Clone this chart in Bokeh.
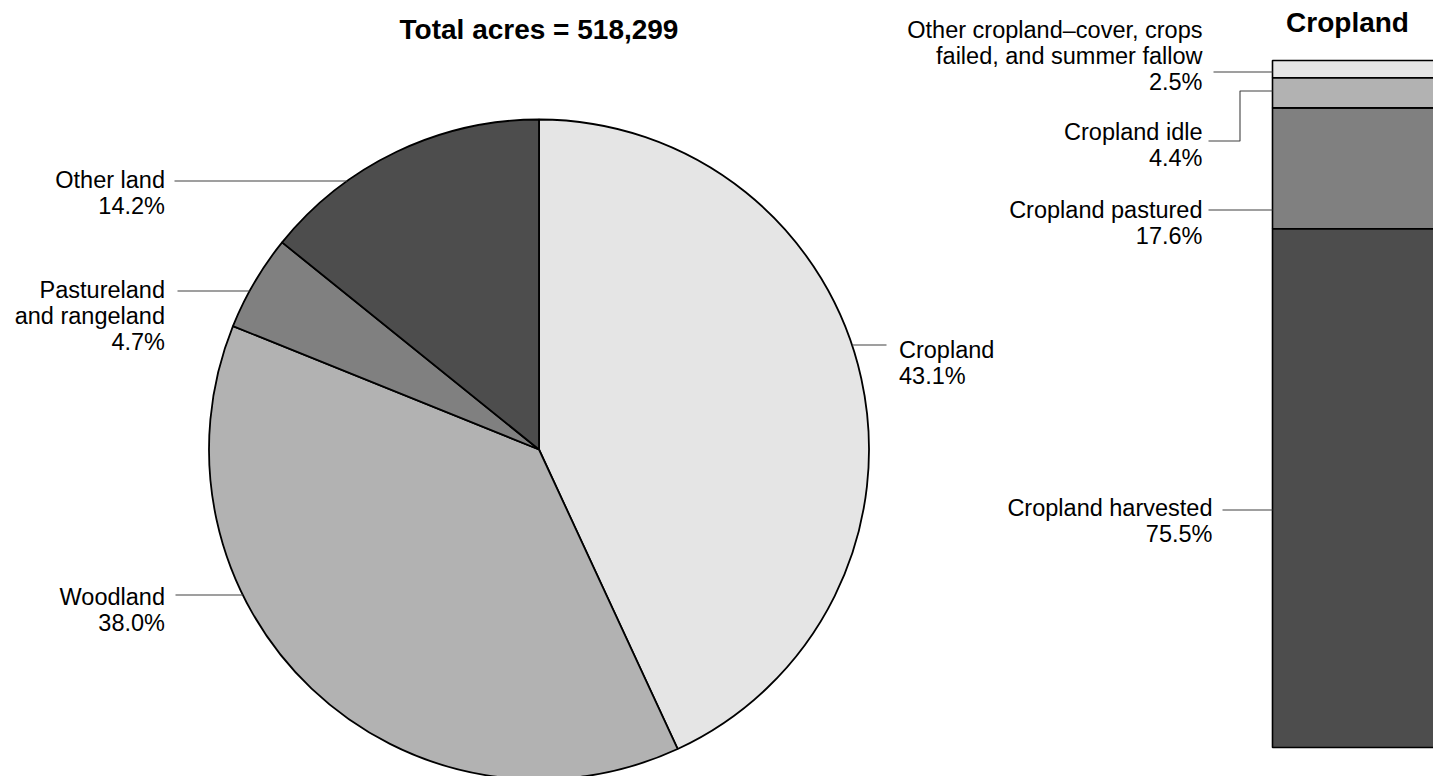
import math
from bokeh.plotting import figure
from bokeh.models import ColumnDataSource, Range1d
from bokeh.core.properties import value
from bokeh.embed import file_html
from bokeh.resources import INLINE

# ---------------- data ----------------
total_acres = 518299
land_categories = ["Cropland", "Woodland", "Pastureland\nand rangeland", "Other land"]
land_shares = [43.1, 38.0, 4.7, 14.2]
land_colors = ["#e5e5e5", "#b2b2b2", "#808080", "#4d4d4d"]

crop_title = "Cropland"
crop_categories = ["Cropland harvested", "Cropland pastured", "Cropland idle",
                   "Other cropland\u2013cover, crops\nfailed, and summer fallow"]
crop_shares = [75.5, 17.6, 4.4, 2.5]
crop_colors = ["#4d4d4d", "#808080", "#b2b2b2", "#e5e5e5"]

# ---------------- layout (page pixel coordinates) ----------------
W, H = 1433, 776
X0, Y0 = 0, 0
CX, CY, R = 538.5, 449.0, 330.0     # pie centre / radius
BAR_L, BAR_R = 1272.0, 1470.0
BAR_TOP, BAR_BOT = 60.0, 747.0
FONT = "Liberation Sans"
FS = "23.5px"
LS = 26.0                           # label line spacing
LABEL_SHIFT = -8.0                  # renderer baseline correction
TITLE_SHIFT = -10.5
LEADER = "#404040"

pie_layout = {
    "Cropland": dict(x=898.5, y=357, align="left", ly=344.5, lx=886),
    "Woodland": dict(x=164.5, y=604, align="right", ly=594.5, lx=175),
    "Pastureland\nand rangeland": dict(x=164.5, y=297.5, align="right", ly=290.5, lx=177),
    "Other land": dict(x=164.5, y=187, align="right", ly=180.5, lx=174),
}
bar_layout = {
    "Cropland harvested": dict(x=1212, y=515, path=[(1222, 509.5), (BAR_L, 509.5)]),
    "Cropland pastured": dict(x=1202, y=217, path=[(1208, 209.5), (BAR_L, 209.5)]),
    "Cropland idle": dict(x=1202, y=139.5, path=[(1208, 140.5), (1239.5, 140.5), (1239.5, 90.5), (BAR_L, 90.5)]),
    "Other cropland\u2013cover, crops\nfailed, and summer fallow":
        dict(x=1202, y=37, path=[(1213, 71.5), (BAR_L, 71.5)]),
}

p = figure(width=W, height=H, x_range=Range1d(X0, X0 + W), y_range=Range1d(-(Y0 + H), -Y0),
           output_backend="svg", toolbar_location=None, min_border=0)
p.axis.visible = False
p.grid.visible = False
p.outline_line_color = None
p.background_fill_color = "white"

# percentage range for the stacked bar, via the library's scale
scale = (BAR_BOT - BAR_TOP) / 100.0
pct_start = -((Y0 + H) - BAR_BOT) / scale
pct_end = 100 + (BAR_TOP - Y0) / scale
p.extra_y_ranges = {"pct": Range1d(pct_start, pct_end)}

# ---------------- pie ----------------
starts, ends, acc = [], [], 0.0
for s in land_shares:
    starts.append(math.pi / 2 - 2 * math.pi * acc / 100.0)
    acc += s
    ends.append(math.pi / 2 - 2 * math.pi * acc / 100.0)
pie_src = ColumnDataSource(dict(start=starts, end=ends, color=land_colors))
p.wedge(x=CX, y=-CY, radius=R, start_angle="start", end_angle="end", direction="clock",
        fill_color="color", line_color="black", line_width=1.8, source=pie_src)

# ---------------- stacked bar ----------------
bottoms, tops, acc = [], [], 0.0
for s in crop_shares:
    bottoms.append(acc)
    acc += s
    tops.append(acc)
bar_src = ColumnDataSource(dict(bottom=bottoms, top=tops, color=crop_colors))
p.quad(left=BAR_L, right=BAR_R, bottom="bottom", top="top", y_range_name="pct",
       fill_color="color", line_color="black", line_width=1.6, source=bar_src)

# ---------------- labels and leaders ----------------
tx, ty, tt, ta = [], [], [], []
lxs, lys = [], []
for name, share in zip(land_categories, land_shares):
    lay = pie_layout[name]
    lines = name.split("\n") + [f"{share:.1f}%"]
    for i, ln in enumerate(lines):
        tx.append(lay["x"]); ty.append(-(lay["y"] + LABEL_SHIFT + i * LS)); tt.append(ln); ta.append(lay["align"])
    dy = lay["ly"] - CY
    dx = math.sqrt(R * R - dy * dy)
    if lay["align"] == "left":
        xs = [CX + dx, lay["lx"]]
    else:
        xs = [lay["lx"], CX - dx]
    lxs.append(xs); lys.append([-lay["ly"], -lay["ly"]])

for name, share in zip(crop_categories, crop_shares):
    lay = bar_layout[name]
    lines = name.split("\n") + [f"{share:.1f}%"]
    for i, ln in enumerate(lines):
        tx.append(lay["x"]); ty.append(-(lay["y"] + LABEL_SHIFT + i * LS)); tt.append(ln); ta.append("right")
    lxs.append([pt[0] for pt in lay["path"]]); lys.append([-pt[1] for pt in lay["path"]])

p.multi_line(xs=lxs, ys=lys, line_color=LEADER, line_width=1.1)

lab_src = ColumnDataSource(dict(x=tx, y=ty, text=tt, align=ta))
p.text(x="x", y="y", text="text", text_align="align", text_baseline="alphabetic",
       text_font=value(FONT), text_font_size=value(FS), text_color="black", source=lab_src)

# titles
p.text(x=[CX], y=[-(39 + TITLE_SHIFT)], text=[f"Total acres = {total_acres:,}"], text_align="center",
       text_baseline="alphabetic", text_font=value(FONT), text_font_size=value("28px"),
       text_font_style="bold", text_color="black")
p.text(x=[1347], y=[-(32 + TITLE_SHIFT)], text=[crop_title], text_align="center",
       text_baseline="alphabetic", text_font=value(FONT), text_font_size=value("28px"),
       text_font_style="bold", text_color="black")

open("out.html", "w").write(file_html(p, INLINE))
